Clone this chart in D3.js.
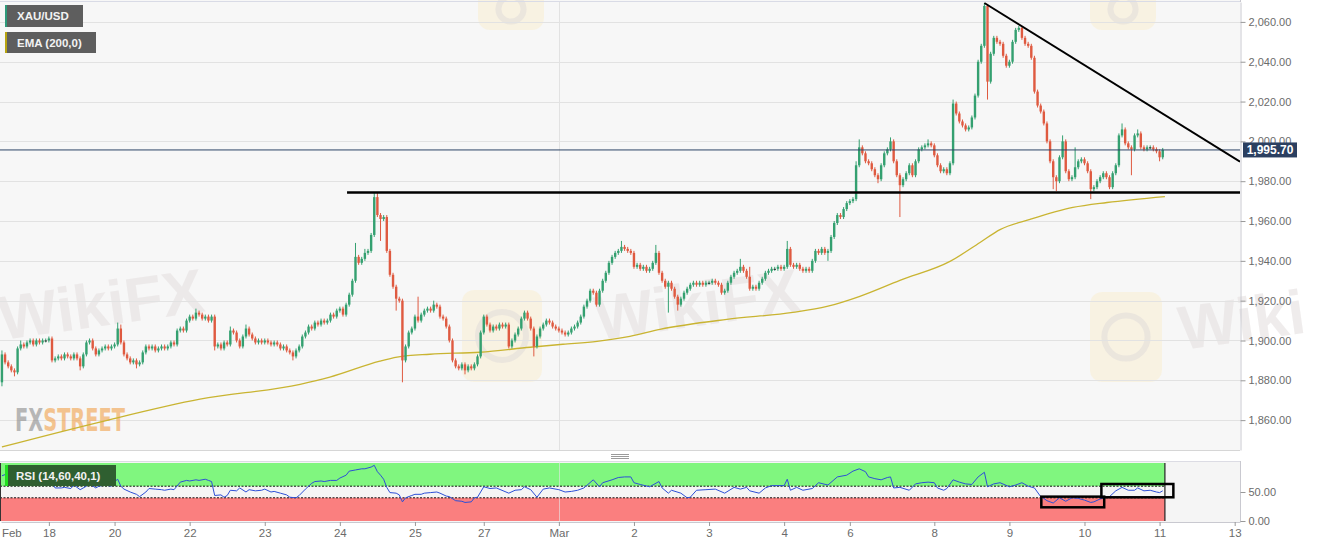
<!DOCTYPE html>
<html><head><meta charset="utf-8">
<script src="https://cdn.jsdelivr.net/npm/d3@7"></script>
<style>
body{margin:0;background:#fff;}
svg{display:block;font-family:"Liberation Sans",Arial,sans-serif;}
</style>
</head><body>
<svg id="chart" width="1317" height="548"></svg>
<script>
// ---------- DATA (hourly XAU/USD candles) ----------
const firstOpen = 1879;
const closes = [
1893,1889,1887,1885,1884,1896,1898,1897,1899,1900,1898,1900,1899,1900,1900,1901,1890,1891,1892,1891,
1893,1892,1891,1893,1891,1887,1893,1899,1900,1896,1893,1895,1896,1897,1896,1897,1898,1906,1899,1893,
1891,1889,1890,1888,1889,1894,1897,1896,1897,1895,1896,1897,1896,1897,1899,1898,1905,1906,1905,1910,
1912,1911,1914,1913,1911,1912,1910,1912,1897,1898,1896,1899,1898,1905,1904,1900,1897,1902,1906,1903,
1901,1899,1900,1899,1900,1899,1898,1899,1898,1896,1897,1895,1894,1892,1895,1897,1902,1904,1907,1906,
1909,1908,1910,1909,1910,1913,1912,1915,1916,1913,1918,1923,1930,1942,1939,1941,1944,1945,1953,1972,
1963,1961,1962,1945,1933,1927,1921,1920,1890,1897,1904,1906,1912,1910,1913,1915,1916,1915,1918,1917,
1912,1911,1907,1900,1890,1887,1886,1888,1885,1887,1886,1888,1892,1904,1912,1908,1905,1907,1906,1908,
1907,1908,1897,1900,1903,1906,1911,1914,1911,1906,1897,1902,1906,1908,1910,1909,1907,1906,1905,1904,
1903,1904,1906,1907,1909,1912,1917,1920,1925,1924,1918,1925,1930,1934,1939,1942,1944,1945,1947,1946,
1945,1944,1937,1938,1936,1937,1935,1936,1939,1944,1934,1930,1927,1929,1926,1922,1918,1921,1924,1926,
1928,1929,1928,1929,1928,1929,1929,1930,1929,1928,1924,1925,1929,1932,1934,1935,1937,1935,1932,1926,
1927,1926,1929,1931,1934,1935,1936,1936,1937,1936,1937,1946,1938,1937,1938,1936,1935,1936,1935,1940,
1945,1944,1946,1944,1945,1952,1959,1963,1962,1966,1969,1970,1971,1988,1997,1994,1990,1989,1986,1983,
1981,1988,1994,1996,2000,1990,1983,1978,1981,1984,1988,1983,1990,1996,1997,1998,1999,1998,1993,1988,
1985,1986,1984,1989,2019,2014,2010,2008,2006,2007,2012,2023,2040,2048,2068,2030,2044,2052,2050,2049,
2043,2038,2040,2050,2056,2057,2052,2049,2048,2042,2025,2018,2015,2009,2000,1990,1982,1980,1992,2000,
1985,1981,1982,1987,1990,1991,1989,1985,1976,1977,1980,1982,1984,1982,1977,1984,1988,2003,2006,1999,
1997,1996,2003,2004,1997,1996,1997,1997,1996,1995,1992,1995.7
];
const upperWicks = [
2,1,1,1,1,1,2,1,1,1,1,1,1,1,1,1,1,1,1,1,
1,1,1,1,1,1,1,1,1,1,1,1,1,1,1,1,1,3,2,1,
1,1,1,1,1,1,1,1,1,1,1,1,1,1,1,1,1,1,1,1,
1,1,2,1,1,1,1,1,1,1,1,1,1,2,1,1,1,1,2,1,
1,1,1,1,1,1,1,1,1,1,1,1,1,1,1,1,1,1,1,1,
1,1,1,1,1,1,1,1,1,1,1,1,1,7,1,1,2,1,1,2,
2,1,1,1,1,1,1,1,1,1,1,1,1,10,1,1,1,1,2,1,
1,1,1,1,1,1,1,1,1,1,1,1,1,1,1,1,1,1,1,1,
1,1,1,1,1,1,1,1,1,1,1,1,1,1,1,1,1,1,1,1,
1,1,1,1,1,1,1,1,1,1,1,1,1,1,1,1,1,1,3,1,
1,1,1,1,1,1,1,1,1,4,1,1,1,1,1,1,1,1,1,1,
1,1,1,1,1,1,1,1,1,1,1,1,1,1,1,1,4,1,1,5,
1,1,1,1,1,1,1,1,1,1,1,4,1,1,1,1,1,1,1,1,
1,1,1,1,1,1,1,1,1,1,1,1,1,2,4,1,1,1,1,1,
1,1,1,1,2,1,1,1,1,1,1,1,1,1,1,1,2,1,1,1,
1,1,1,1,2,1,1,1,1,1,1,1,1,1,1.5,1,1,1,1,1,
1,1,1,1,1,1,1,1,1,1,1,1,1,1,1,1,1,1,1,3,
1,1,1,10,1,1,1,1,1,1,1,1,1,1,1,1,1,1,3,1,
1,1,1,2,1,1,1,1,1,1,1,1
];
const lowerWicks = [
2,1,1,1,2,1,1,1,1,1,1,1,1,1,1,1,1,1,1,1,
1,1,1,1,1,2,1,1,1,1,1,1,1,1,1,1,1,1,1,1,
1,1,1,2,1,1,1,1,1,1,1,1,1,1,1,1,1,1,1,1,
1,1,1,1,1,1,1,1,2,1,1,1,1,1,1,1,1,1,1,1,
1,1,1,1,1,1,1,1,1,1,1,1,1,2,1,1,1,1,1,1,
1,1,1,1,1,1,1,1,1,1,1,1,1,1,1,1,1,1,1,1,
1,11,1,1,1,1,6,1,11,1,1,1,1,1,1,1,1,1,1,1,
1,1,1,1,1,1,1,1,2,1,1,1,1,1,1,1,1,1,1,1,
1,1,1,1,1,1,1,1,1,1,5,1,1,1,1,1,1,1,1,1,
1,1,1,1,1,1,1,1,1,1,1,1,1,1,1,1,1,1,1,1,
1,1,1,1,1,1,1,1,1,1,1,1,1,13,1,1,3,1,1,1,
1,1,1,1,1,1,1,1,1,1,1,1,1,1,1,1,1,1,1,1,
1,1,1,1,1,1,1,1,1,1,1,1,1,1,1,1,1,1,1,1,
1,1,1,1,4,1,1,1,1,1,1,1,1,1,1,1,1,1,1,1,
2,1,1,1,1,1,1,16,1,1,1,1,1,1,1,1,1,1,1,1,
1,1,1,1,1,1,1,1,1,1,1,1,1,1,1,9,1,1,1,1,
1,1,1,1,1,1,1,1,1,1,1,1,1,1,1,1,6,5,1,1,
1,1,1,1,1,1,1,1,5,1,1,1,1,1,1,1,1,1,1,1,
1,13,1,1,1,1,1,1,1,1,2,1
];
const emaBars = [0,31.3,63.3,95.3,104.8,120.8,126.3,136.8,152.8,168.8,179.3,190.2,200.7,210.3,231.7,252.8,263.7,274.2,287,303,312.6,319,328.6,342.3,353.2,371.7];
const emaValues = [1846.5,1859,1870.5,1878,1881.6,1889.6,1891.6,1893.1,1894.1,1896.6,1898.1,1899.6,1902.1,1905.6,1910.6,1914.1,1917.1,1922.2,1930.2,1939.7,1949.2,1955.7,1960.8,1966.8,1969.3,1972.3];
const rsiBars = [
0,1,3,4,6,9,12,15,17,19, 20,22,23,25,27,28,30,31,33,35, 36,37,38,39,41,43,44,46,47,49,
51,52,54,55,57,59,60,62,63,65, 66,67,68,70,71,72,73,75,76,78, 79,81,83,84,86,87,89,91,92,94,
95,97,99,100,102,103,105,107,108,110, 111,113,115,116,118,119,120,121,122,123, 124,126,127,128,129,131,132,134,135,137,
139,140,142,143,145,147,148,150,151,152, 154,156,158,162,164,166,167,169,171,173, 175,178,180,182,184,186,189,191,192,195,
197,199,201,202,204,207,210,211,213,214, 217,219,220,222,225,228,231,234,236,238, 239,242,244,246,248,250,251,252,254,256,
259,261,264,267,270,272,274,276,277,279, 281,283,284,285,287,290,292,294,296,298, 299,301,302,304,306,308,310,312,314,315,
317,319,322,324,326,328,330,332,333,334, 336,338,340,342,344,346,348,349,351,354, 356,358,360,362,363,365,367,369,370,371
];
const rsiValues = [
78,80,74,78,72,70,74,76,57,57, 58,56,62,54,60,64,57,60,62,60, 68,72,60,55,50,46,42,50,56,55,
54,53,55,54,67,70,69,71,70,72, 70,68,44,45,41,44,53,52,57,50, 54,52,53,55,50,51,48,45,41,40,
44,55,65,68,69,68,70,70,74,79, 86,88,90,90,93,96,85,79,72,58, 49,48,45,33,40,44,46,46,48,49,
50,48,43,42,35,34,32,33,40,41, 59,56,57,48,53,54,59,54,41,55, 57,54,50,51,53,57,71,59,66,71,
75,76,76,66,63,59,68,57,48,53, 48,40,41,53,54,55,48,58,55,58, 52,48,57,61,61,61,72,53,58,53,
56,66,62,76,79,86,90,85,76,73, 71,75,76,57,58,53,64,66,67,66, 57,53,56,71,67,64,63,76,84,59,
64,66,59,62,66,60,57,42,39,35, 31,40,34,40,39,36,32,33,38,42, 52,58,53,53,57,52,53,50,49,52
];
const priceTicks = [1860,1880,1900,1920,1940,1960,1980,2000,2020,2040,2060];
const rsiTicks = [0,50];
const rsiLevels = [60,40];
const dateTickBars = [3,15,36,60,84,108,132,154,178,202,226,250,271,298,322,346,370,394];
const dateTickLabels = ["Feb","18","20","22","23","24","25","27","Mar","2","3","4","6","8","9","10","11","13"];
const monthStartBar = 178;
const lastPrice = 1995.70;
const rsiZoneEndBar = 371.7;
const supportLine = {startBar:110.3, endBar:395.7, price:1974.3};
const trendLine = {startBar:314, startPrice:2069.5, endBar:395.7, endPrice:1989.8};
const rsiBoxes = [
  {b0:332.2, b1:352.3, v0:42, v1:23.6},
  {b0:351.4, b1:374.4, v0:63.8, v1:40.9}
];

// ---------- SCALES ----------
const svg = d3.select("#chart");
const PL = 0, PR = 1240, PT = 2, PB = 450;
const RT = 461, RB = 522;
const x = d3.scaleLinear().domain([-0.3, 395.7]).range([1, PR]);
const y = d3.scaleLinear().domain([1845, 2070]).range([PB, PT]);
const yR = d3.scaleLinear().domain([0, 100]).range([521, 463]);
const fmt = d3.format(",.2f");

const candles = closes.map((c, i) => {
  const o = i === 0 ? firstOpen : closes[i - 1];
  return {i, o, c, h: Math.max(o, c) + upperWicks[i], l: Math.min(o, c) - lowerWicks[i]};
});

// ---------- MAIN PANEL ----------
svg.append("rect").attr("x", PL).attr("y", 0).attr("width", PR - PL).attr("height", PB).attr("fill", "#f7f7f7");
svg.append("defs").append("clipPath").attr("id", "clipMain")
  .append("rect").attr("x", PL).attr("y", 1).attr("width", PR - PL).attr("height", PB - 1);

// watermarks (faint)
const wm = svg.append("g").attr("pointer-events", "none");
[[478,-12,66,42],[1090,-12,66,42],[462,290,80,92],[1090,292,72,90]].forEach(r => {
  wm.append("rect").attr("x", r[0]).attr("y", r[1]).attr("width", r[2]).attr("height", r[3]).attr("rx", 12)
    .attr("fill", "#f9eed2").attr("opacity", 0.55);
  wm.append("circle").attr("cx", r[0] + r[2] / 2).attr("cy", r[1] + r[3] / 2).attr("r", Math.min(r[2], r[3]) * 0.3)
    .attr("fill", "none").attr("stroke", "#e3dedb").attr("stroke-width", 6).attr("opacity", 0.6);
});
[[2,340,-8,"WikiFX"],[598,340,-8,"WikiFX"],[1182,350,-8,"Wiki"]].forEach(t => {
  wm.append("text").attr("transform", `translate(${t[0]},${t[1]}) rotate(${t[2]})`)
    .attr("font-size", 62).attr("font-weight", "bold").attr("fill", "#e6e1e1").attr("opacity", 0.6)
    .text(t[3]);
});

// grid
svg.append("g").selectAll("line").data(priceTicks).join("line")
  .attr("x1", PL).attr("x2", PR).attr("y1", d => Math.round(y(d)) + 0.5).attr("y2", d => Math.round(y(d)) + 0.5)
  .attr("stroke", "#e2e2e2");
svg.append("line").attr("x1", Math.round(x(monthStartBar)) + 0.5).attr("x2", Math.round(x(monthStartBar)) + 0.5)
  .attr("y1", PT).attr("y2", PB).attr("stroke", "#e2e2e2");
svg.append("line").attr("x1", PL).attr("x2", PR).attr("y1", 1.5).attr("y2", 1.5).attr("stroke", "#d9dbe6");
svg.append("line").attr("x1", PL).attr("x2", PR).attr("y1", PB + 0.5).attr("y2", PB + 0.5).attr("stroke", "#d6d6d6");

// FXSTREET logo
const fx = svg.append("text").attr("x", 15).attr("y", 431).attr("font-family", "'Liberation Sans Narrow','DejaVu Sans Condensed',sans-serif")
  .attr("font-weight", "bold").attr("font-size", 32).attr("textLength", 110).attr("lengthAdjust", "spacingAndGlyphs").attr("opacity", 0.6);
fx.append("tspan").attr("fill", "#8c8c8c").text("FX");
fx.append("tspan").attr("fill", "#f2a24b").text("STREET");

const main = svg.append("g").attr("clip-path", "url(#clipMain)");

// EMA
main.append("path").datum(emaBars.map((b, k) => [b, emaValues[k]]))
  .attr("fill", "none").attr("stroke", "#c9b431").attr("stroke-width", 1.3)
  .attr("d", d3.line().x(d => x(d[0])).y(d => y(d[1])).curve(d3.curveMonotoneX));

// candles
const up = "#34a070", dn = "#df5a40";
const cg = main.append("g");
cg.selectAll("line").data(candles).join("line")
  .attr("x1", d => x(d.i)).attr("x2", d => x(d.i))
  .attr("y1", d => y(d.h)).attr("y2", d => y(d.l))
  .attr("stroke", d => d.c >= d.o ? up : dn).attr("stroke-width", 1);
cg.selectAll("rect").data(candles).join("rect")
  .attr("x", d => x(d.i) - 1.2).attr("width", 2.4)
  .attr("y", d => y(Math.max(d.o, d.c)))
  .attr("height", d => Math.max(1, Math.abs(y(d.o) - y(d.c))))
  .attr("fill", d => d.c === d.o ? "#222" : (d.c > d.o ? up : dn));

// last price line
main.append("line").attr("x1", PL).attr("x2", PR).attr("y1", y(lastPrice)).attr("y2", y(lastPrice))
  .attr("stroke", "#2d4466").attr("stroke-width", 1);

// drawn lines
main.append("line").attr("x1", x(supportLine.startBar)).attr("x2", x(supportLine.endBar))
  .attr("y1", y(supportLine.price)).attr("y2", y(supportLine.price))
  .attr("stroke", "#000").attr("stroke-width", 2.6);
main.append("line").attr("x1", x(trendLine.startBar)).attr("x2", x(trendLine.endBar))
  .attr("y1", y(trendLine.startPrice)).attr("y2", y(trendLine.endPrice))
  .attr("stroke", "#000").attr("stroke-width", 2);

// y axis
const ya = svg.append("g").attr("transform", `translate(${PR + 0.5},0)`)
  .call(d3.axisRight(y).tickValues(priceTicks).tickFormat(fmt).tickSize(5).tickSizeOuter(0));
ya.select(".domain").attr("stroke", "#c9c9d0");
ya.selectAll(".tick line").attr("stroke", "#999");
ya.selectAll(".tick text").attr("fill", "#6b6b6b").attr("font-size", 11).attr("font-family", "'Liberation Sans',Arial,sans-serif");
svg.append("line").attr("x1", PR + 0.5).attr("x2", PR + 0.5).attr("y1", 0).attr("y2", PT).attr("stroke", "#c9c9d0");

// price tag
const ty = y(lastPrice);
svg.append("rect").attr("x", PR + 3).attr("y", ty - 7.5).attr("width", 54).attr("height", 15).attr("fill", "#2b3f60");
svg.append("text").attr("x", PR + 30).attr("y", ty + 4.5).attr("text-anchor", "middle")
  .attr("fill", "#fff").attr("font-size", 12).attr("font-weight", "bold").text(fmt(lastPrice));

// legends
function legend(yTop, w, h, label, stripe, fill) {
  svg.append("rect").attr("x", 5).attr("y", yTop).attr("width", w).attr("height", h).attr("fill", fill);
  svg.append("rect").attr("x", 5).attr("y", yTop).attr("width", 2).attr("height", h).attr("fill", stripe);
  svg.append("text").attr("x", 17).attr("y", yTop + h / 2 + 4).attr("fill", "#f2f2f2").attr("font-size", 11.5)
    .attr("font-weight", 600).text(label);
}
legend(5, 78, 22, "XAU/USD", "#2e9a7a", "#5e5e5e");
legend(32, 91, 21, "EMA (200,0)", "#b8a410", "#5e5e5e");

// separator grip
svg.append("g").selectAll("line").data([454.5, 456.5, 458.5]).join("line")
  .attr("x1", 611).attr("x2", 629).attr("y1", d => d).attr("y2", d => d).attr("stroke", "#9a9a9a");

// ---------- RSI PANEL ----------
svg.append("rect").attr("x", PL).attr("y", RT).attr("width", PR - PL).attr("height", RB - RT).attr("fill", "#f5f5f5");
svg.append("line").attr("x1", PL).attr("x2", PR).attr("y1", RT + 0.5).attr("y2", RT + 0.5).attr("stroke", "#dcdce4");
const zx0 = PL, zx1 = x(rsiZoneEndBar);
svg.append("rect").attr("x", zx0).attr("y", yR(100)).attr("width", zx1 - zx0).attr("height", yR(60) - yR(100)).attr("fill", "#80f67f");
svg.append("rect").attr("x", zx0).attr("y", yR(40)).attr("width", zx1 - zx0).attr("height", yR(0) - yR(40)).attr("fill", "#fa7f7f");
svg.append("line").attr("x1", Math.round(x(monthStartBar)) + 0.5).attr("x2", Math.round(x(monthStartBar)) + 0.5)
  .attr("y1", RT).attr("y2", RB).attr("stroke", "#e8e8e8").attr("opacity", 0.6);
svg.append("g").selectAll("line").data(rsiLevels).join("line")
  .attr("x1", zx0).attr("x2", zx1).attr("y1", d => yR(d)).attr("y2", d => yR(d))
  .attr("stroke", "#111").attr("stroke-width", 1).attr("stroke-dasharray", "2,1.5");
svg.append("line").attr("x1", zx1).attr("x2", zx1).attr("y1", yR(100)).attr("y2", yR(0)).attr("stroke", "#222").attr("stroke-width", 1.2);
svg.append("line").attr("x1", 0.5).attr("x2", 0.5).attr("y1", yR(100)).attr("y2", yR(0)).attr("stroke", "#333");

svg.append("path").datum(rsiBars.map((b, k) => [b, rsiValues[k]]))
  .attr("fill", "none").attr("stroke", "#2d4fd6").attr("stroke-width", 1)
  .attr("d", d3.line().x(d => x(d[0])).y(d => yR(d[1])));

svg.append("g").selectAll("rect").data(rsiBoxes).join("rect")
  .attr("x", d => x(d.b0)).attr("y", d => yR(d.v0)).attr("width", d => x(d.b1) - x(d.b0)).attr("height", d => yR(d.v1) - yR(d.v0))
  .attr("fill", "none").attr("stroke", "#000").attr("stroke-width", 2.5);

// RSI label
svg.append("rect").attr("x", 5).attr("y", 465).attr("width", 111).attr("height", 21).attr("fill", "#2f5f30");
svg.append("rect").attr("x", 5).attr("y", 465).attr("width", 3).attr("height", 21).attr("fill", "#21e021");
svg.append("text").attr("x", 16).attr("y", 480).attr("fill", "#f2f2f2").attr("font-size", 11.5).attr("font-weight", 600).text("RSI (14,60,40,1)");

// RSI axis
const ra = svg.append("g").attr("transform", `translate(${PR + 0.5},0)`)
  .call(d3.axisRight(yR).tickValues(rsiTicks).tickFormat(fmt).tickSize(5).tickSizeOuter(0));
ra.select(".domain").attr("d", `M0,${RT}V${RB}`).attr("stroke", "#c9c9d0");
ra.selectAll(".tick line").attr("stroke", "#999");
ra.selectAll(".tick text").attr("fill", "#6b6b6b").attr("font-size", 11).attr("font-family", "'Liberation Sans',Arial,sans-serif");

// x axis
const xa = svg.append("g").attr("transform", `translate(0,${RB})`)
  .call(d3.axisBottom(x).tickValues(dateTickBars).tickFormat((d, i) => dateTickLabels[i]).tickSize(4).tickSizeOuter(0));
xa.select(".domain").attr("stroke", "#c9c9d0");
xa.selectAll(".tick line").attr("stroke", "#999").attr("opacity", (d, i) => i === 0 ? 0 : 1);
xa.selectAll(".tick text").attr("fill", "#6b6b6b").attr("font-size", 11.5).attr("font-family", "'Liberation Sans',Arial,sans-serif");
</script>
</body></html>
